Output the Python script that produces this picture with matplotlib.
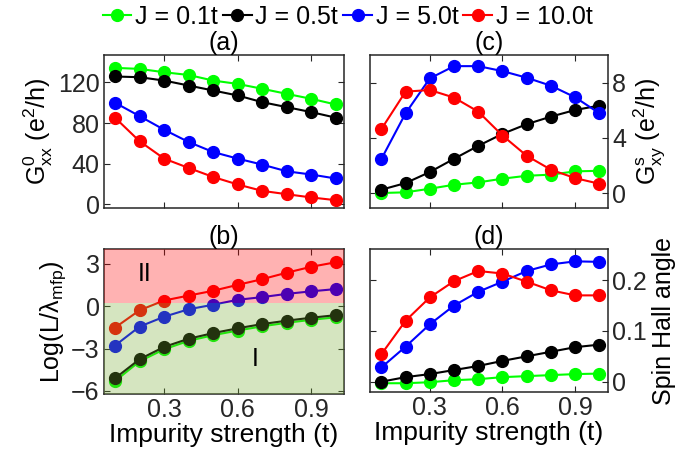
import matplotlib
matplotlib.use("Agg")
import matplotlib.pyplot as plt

plt.rcParams["font.family"] = ["Liberation Sans", "DejaVu Sans"]
plt.rcParams["mathtext.fontset"] = "custom"
plt.rcParams["mathtext.rm"] = "Liberation Sans"
plt.rcParams["mathtext.it"] = "Liberation Sans:italic"
plt.rcParams["font.size"] = 18

# impurity strength (t)
x = [0.1, 0.2, 0.3, 0.4, 0.5, 0.6, 0.7, 0.8, 0.9, 1.0]
labels = ["J = 0.1t", "J = 0.5t", "J = 5.0t", "J = 10.0t"]
colors = ["#00ff00", "#000000", "#0000ff", "#ff0000"]

# (a) G0_xx (e^2/h)
gxx_01 = [134.4, 133.4, 130.1, 127.4, 121.9, 118.6, 113.8, 108.8, 103.9, 98.3]
gxx_05 = [125.9, 125.2, 121.9, 117.0, 112.1, 107.2, 100.6, 95.7, 90.8, 85.3]
gxx_50 = [100.0, 86.8, 73.4, 61.3, 51.4, 44.9, 39.0, 32.4, 29.2, 25.3]
gxx_100 = [85.2, 62.0, 44.9, 35.7, 26.8, 19.4, 13.1, 9.8, 6.6, 3.9]

# (b) Log(L/lambda_mfp)
lmfp_01 = [-5.3, -3.9, -3.05, -2.45, -2.05, -1.72, -1.42, -1.17, -0.96, -0.78]
lmfp_05 = [-5.1, -3.75, -2.88, -2.3, -1.9, -1.56, -1.26, -1.02, -0.81, -0.63]
lmfp_50 = [-2.78, -1.44, -0.74, -0.21, 0.11, 0.46, 0.65, 0.88, 1.06, 1.22]
lmfp_100 = [-1.51, -0.28, 0.41, 0.76, 1.1, 1.52, 1.92, 2.38, 2.8, 3.12]

# (c) Gs_xy (e^2/h)
gxy_01 = [0.0, 0.05, 0.31, 0.6, 0.77, 1.04, 1.25, 1.33, 1.57, 1.61]
gxy_05 = [0.24, 0.72, 1.52, 2.48, 3.42, 4.29, 4.99, 5.54, 6.02, 6.34]
gxy_50 = [2.46, 5.78, 8.31, 9.2, 9.2, 8.84, 8.36, 7.78, 6.94, 5.78]
gxy_100 = [4.63, 7.35, 7.47, 6.92, 5.9, 4.17, 2.7, 1.69, 1.08, 0.67]

# (d) spin Hall angle
sha_01 = [-0.003, -0.003, -0.001, 0.003, 0.005, 0.009, 0.011, 0.013, 0.015, 0.016]
sha_05 = [0.0, 0.009, 0.015, 0.023, 0.031, 0.041, 0.05, 0.059, 0.068, 0.073]
sha_50 = [0.028, 0.069, 0.113, 0.15, 0.177, 0.197, 0.218, 0.231, 0.237, 0.236]
sha_100 = [0.054, 0.12, 0.166, 0.198, 0.218, 0.213, 0.197, 0.18, 0.17, 0.17]

AX_COLOR = "#262626"


def style_axes(ax, right=False):
    for s in ax.spines.values():
        s.set_color(AX_COLOR)
        s.set_linewidth(1.1)
    ax.tick_params(direction="in", length=4, width=0.8, colors=AX_COLOR,
                   top=True, bottom=True, left=True, right=True, pad=3)
    if right:
        ax.tick_params(labelleft=False, labelright=True)
        ax.yaxis.set_label_position("right")
    ax.set_xlim(0.054, 1.035)
    ax.set_xticks([0.3, 0.6, 0.9])


def draw(ax, series):
    handles = []
    for ys, c, lab in zip(series, colors, labels):
        h, = ax.plot(x, ys, "-o", color=c, lw=1.5, ms=8.5, label=lab)
        handles.append(h)
    return handles


fig = plt.figure(figsize=(6.83, 4.71), dpi=100)
ax_a = fig.add_axes([0.152, 0.558, 0.352, 0.325])
ax_c = fig.add_axes([0.542, 0.558, 0.348, 0.325])
ax_b = fig.add_axes([0.152, 0.164, 0.352, 0.307])
ax_d = fig.add_axes([0.542, 0.168, 0.348, 0.303])

handles = draw(ax_a, [gxx_01, gxx_05, gxx_50, gxx_100])
style_axes(ax_a)
ax_a.set_ylim(-4, 147)
ax_a.set_yticks([0, 40, 80, 120])
ax_a.set_xticklabels([])
ax_a.set_ylabel(r"G$^{\rm 0}_{\rm xx}$ (e$^{\rm 2}$/h)", labelpad=2)
ax_a.set_title("(a)", fontsize=18, pad=4)

draw(ax_b, [lmfp_01, lmfp_05, lmfp_50, lmfp_100])
style_axes(ax_b)
ax_b.set_ylim(-6.2, 4.05)
ax_b.set_yticks([-6, -3, 0, 3])
ax_b.axhspan(0.2, 4.05, color="#ff0000", alpha=0.3, lw=0, zorder=5)
ax_b.axhspan(-6.2, 0.2, color="#77ac30", alpha=0.3, lw=0, zorder=5)
ax_b.text(0.22, 2.3, "II", ha="center", va="center", fontsize=18, zorder=6)
ax_b.text(0.67, -3.75, "I", ha="center", va="center", fontsize=18, zorder=6)
ax_b.set_xlabel("Impurity strength (t)", fontsize=19, labelpad=1)
ax_b.set_ylabel(r"Log(L/λ$_{\rm mfp}$)", labelpad=2)
ax_b.set_title("(b)", fontsize=18, pad=4)

draw(ax_c, [gxy_01, gxy_05, gxy_50, gxy_100])
style_axes(ax_c, right=True)
ax_c.set_ylim(-1.1, 10)
ax_c.set_yticks([0, 4, 8])
ax_c.set_xticklabels([])
ax_c.set_ylabel(r"G$^{\rm s}_{\rm xy}$ (e$^{\rm 2}$/h)", labelpad=4)
ax_c.set_title("(c)", fontsize=18, pad=4)

draw(ax_d, [sha_01, sha_05, sha_50, sha_100])
style_axes(ax_d, right=True)
ax_d.set_ylim(-0.02, 0.261)
ax_d.set_yticks([0, 0.1, 0.2])
ax_d.set_yticklabels(["0", "0.1", "0.2"])
ax_d.set_xlabel("Impurity strength (t)", fontsize=19, labelpad=1)
ax_d.set_ylabel("Spin Hall angle", labelpad=4)
ax_d.set_title("(d)", fontsize=18, pad=4)

fig.legend(handles=handles, loc="center", bbox_to_anchor=(0.509, 0.964), ncol=4,
           frameon=False, handlelength=1.15, handletextpad=0.15, columnspacing=0.2,
           borderpad=0.1, fontsize=18)

fig.savefig("out.png", dpi=100)
